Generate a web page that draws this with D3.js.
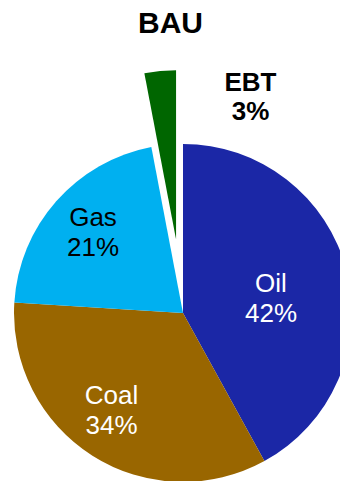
<!DOCTYPE html>
<html>
<head>
<meta charset="utf-8">
<script src="https://cdn.jsdelivr.net/npm/d3@7"></script>
<style>
  html, body { margin: 0; padding: 0; background: #fff; }
  svg { display: block; }
</style>
</head>
<body>
<svg id="chart" width="340" height="481"></svg>
<script>
// Energy mix shares, business-as-usual scenario
const title = "BAU";
const categories = ["Oil", "Coal", "Gas", "EBT"];
const shares = [42, 34, 21, 3];
const colors = ["#1B27A6", "#996600", "#00B0F0", "#006600"];
const exploded = [false, false, false, true];
const labelColors = ["#fff", "#fff", "#000", "#000"];
const labelWeights = ["normal", "normal", "normal", "bold"];
// label anchor points (first-line baseline), relative to the pie centre
const labelOffsets = [[88, -21], [-71.5, 91], [-90, -87], [67.5, -222.5]];

const svg = d3.select("#chart");
const cx = 183, cy = 313, radius = 169, explodeDist = 74;

svg.append("text")
  .attr("x", 170.5).attr("y", 33)
  .attr("text-anchor", "middle")
  .attr("font-family", "Liberation Sans, Arial, sans-serif")
  .attr("font-size", 30).attr("font-weight", "bold")
  .attr("fill", "#000")
  .text(title);

const data = categories.map((c, i) => ({ name: c, value: shares[i], i }));
const pie = d3.pie().value(d => d.value).sort(null);
const arc = d3.arc().innerRadius(0).outerRadius(radius);
const arcs = pie(data);

const g = svg.append("g").attr("transform", `translate(${cx},${cy})`);

g.selectAll("path.slice")
  .data(arcs)
  .join("path")
  .attr("class", "slice")
  .attr("d", arc)
  .attr("fill", d => colors[d.data.i])
  .attr("transform", d => {
    if (!exploded[d.data.i]) return null;
    const mid = (d.startAngle + d.endAngle) / 2;
    return `translate(${explodeDist * Math.sin(mid)},${-explodeDist * Math.cos(mid)})`;
  });

const labels = g.selectAll("text.lbl")
  .data(arcs)
  .join("text")
  .attr("class", "lbl")
  .attr("text-anchor", "middle")
  .attr("font-family", "Liberation Sans, Arial, sans-serif")
  .attr("font-size", d => d.data.i === 3 ? 26 : 26)
  .attr("font-weight", d => labelWeights[d.data.i])
  .attr("fill", d => labelColors[d.data.i])
  .attr("transform", d => `translate(${labelOffsets[d.data.i][0]},${labelOffsets[d.data.i][1]})`);

labels.append("tspan").attr("x", 0).attr("y", 0).text(d => d.data.name);
labels.append("tspan").attr("x", 0).attr("y", d => d.data.i === 3 ? 29.5 : 30)
  .text(d => d.data.value + "%");
</script>
</body>
</html>
